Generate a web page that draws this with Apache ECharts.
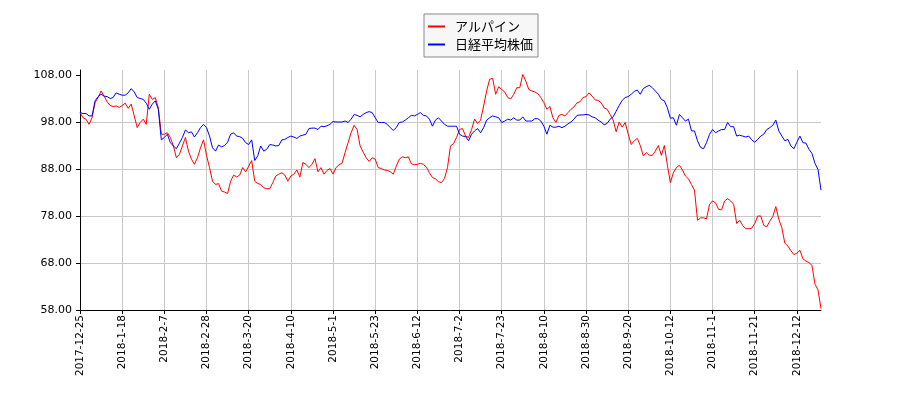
<!DOCTYPE html>
<html>
<head>
<meta charset="utf-8">
<script src="https://cdn.jsdelivr.net/npm/echarts@6/dist/echarts.min.js"></script>
<style>
    html, body { margin: 0; padding: 0; background: #fff; }
    #chart { width: 900px; height: 400px; }
</style>
</head>
<body>
<div id="chart"></div>
<script>
let dates = [
    '2017-12-25', '2017-12-26', '2017-12-27', '2017-12-28', '2017-12-29',
    '2018-1-4', '2018-1-5', '2018-1-9', '2018-1-10', '2018-1-11', '2018-1-12', '2018-1-15', '2018-1-16', '2018-1-17', '2018-1-18',
    '2018-1-19', '2018-1-22', '2018-1-23', '2018-1-24', '2018-1-25', '2018-1-26', '2018-1-29', '2018-1-30', '2018-1-31',
    '2018-2-1', '2018-2-2', '2018-2-5', '2018-2-6', '2018-2-7', '2018-2-8', '2018-2-9', '2018-2-13', '2018-2-14', '2018-2-15',
    '2018-2-16', '2018-2-19', '2018-2-20', '2018-2-21', '2018-2-22', '2018-2-23', '2018-2-26', '2018-2-27', '2018-2-28',
    '2018-3-1', '2018-3-2', '2018-3-5', '2018-3-6', '2018-3-7', '2018-3-8', '2018-3-9', '2018-3-12', '2018-3-13', '2018-3-14',
    '2018-3-15', '2018-3-16', '2018-3-19', '2018-3-20', '2018-3-22', '2018-3-23', '2018-3-26', '2018-3-27', '2018-3-28',
    '2018-3-29', '2018-3-30',
    '2018-4-2', '2018-4-3', '2018-4-4', '2018-4-5', '2018-4-6', '2018-4-9', '2018-4-10', '2018-4-11', '2018-4-12', '2018-4-13',
    '2018-4-16', '2018-4-17', '2018-4-18', '2018-4-19', '2018-4-20', '2018-4-23', '2018-4-24', '2018-4-25', '2018-4-26', '2018-4-27',
    '2018-5-1', '2018-5-2', '2018-5-7', '2018-5-8', '2018-5-9', '2018-5-10', '2018-5-11', '2018-5-14', '2018-5-15', '2018-5-16',
    '2018-5-17', '2018-5-18', '2018-5-21', '2018-5-22', '2018-5-23', '2018-5-24', '2018-5-25', '2018-5-28', '2018-5-29',
    '2018-5-30', '2018-5-31',
    '2018-6-1', '2018-6-4', '2018-6-5', '2018-6-6', '2018-6-7', '2018-6-8', '2018-6-11', '2018-6-12', '2018-6-13', '2018-6-14',
    '2018-6-15', '2018-6-18', '2018-6-19', '2018-6-20', '2018-6-21', '2018-6-22', '2018-6-25', '2018-6-26', '2018-6-27',
    '2018-6-28', '2018-6-29',
    '2018-7-2', '2018-7-3', '2018-7-4', '2018-7-5', '2018-7-6', '2018-7-9', '2018-7-10', '2018-7-11', '2018-7-12', '2018-7-13',
    '2018-7-17', '2018-7-18', '2018-7-19', '2018-7-20', '2018-7-23', '2018-7-24', '2018-7-25', '2018-7-26', '2018-7-27',
    '2018-7-30', '2018-7-31',
    '2018-8-1', '2018-8-2', '2018-8-3', '2018-8-6', '2018-8-7', '2018-8-8', '2018-8-9', '2018-8-10', '2018-8-13', '2018-8-14',
    '2018-8-15', '2018-8-16', '2018-8-17', '2018-8-20', '2018-8-21', '2018-8-22', '2018-8-23', '2018-8-24', '2018-8-27',
    '2018-8-28', '2018-8-29', '2018-8-30', '2018-8-31',
    '2018-9-3', '2018-9-4', '2018-9-5', '2018-9-6', '2018-9-7', '2018-9-10', '2018-9-11', '2018-9-12', '2018-9-13', '2018-9-14',
    '2018-9-18', '2018-9-19', '2018-9-20', '2018-9-21', '2018-9-25', '2018-9-26', '2018-9-27', '2018-9-28',
    '2018-10-1', '2018-10-2', '2018-10-3', '2018-10-4', '2018-10-5', '2018-10-9', '2018-10-10', '2018-10-11', '2018-10-12',
    '2018-10-15', '2018-10-16', '2018-10-17', '2018-10-18', '2018-10-19', '2018-10-22', '2018-10-23', '2018-10-24',
    '2018-10-25', '2018-10-26', '2018-10-29', '2018-10-30', '2018-10-31',
    '2018-11-1', '2018-11-2', '2018-11-5', '2018-11-6', '2018-11-7', '2018-11-8', '2018-11-9', '2018-11-12', '2018-11-13',
    '2018-11-14', '2018-11-15', '2018-11-16', '2018-11-19', '2018-11-20', '2018-11-21', '2018-11-22', '2018-11-26',
    '2018-11-27', '2018-11-28', '2018-11-29', '2018-11-30',
    '2018-12-3', '2018-12-4', '2018-12-5', '2018-12-6', '2018-12-7', '2018-12-10', '2018-12-11', '2018-12-12', '2018-12-13',
    '2018-12-14', '2018-12-17', '2018-12-18', '2018-12-19', '2018-12-20', '2018-12-21', '2018-12-25'
];

// アルパイン (indexed, start = 100)
let alpine = [
    100.0, 98.9, 98.6, 97.5, 98.9, 102.1, 103.2, 104.6, 103.5, 102.3,
    101.5, 101.3, 101.4, 101.1, 101.5, 102.0, 100.9, 101.8, 99.3, 96.8,
    97.9, 98.6, 97.5, 103.9, 102.8, 103.2, 101.0, 95.4, 95.4, 95.7,
    94.7, 92.9, 90.4, 91.1, 92.9, 94.7, 91.8, 90.1, 89.0, 90.4,
    92.5, 94.2, 90.9, 88.3, 85.4, 84.7, 84.9, 83.3, 83.1, 82.8,
    85.4, 86.7, 86.3, 86.7, 88.3, 87.4, 88.6, 89.8, 85.4, 84.9,
    84.7, 84.0, 83.8, 83.8, 85.1, 86.5, 86.9, 87.2, 86.7, 85.4,
    86.5, 86.9, 87.8, 86.3, 89.4, 89.0, 88.3, 89.0, 90.2, 87.4,
    88.3, 86.9, 87.7, 88.1, 86.9, 88.3, 88.9, 89.2, 91.5, 93.6,
    95.7, 97.3, 96.4, 92.9, 91.6, 90.4, 89.6, 90.4, 90.1, 88.3,
    88.1, 87.8, 87.7, 87.4, 86.9, 88.6, 90.1, 90.6, 90.4, 90.6,
    89.1, 88.9, 89.0, 89.2, 89.0, 88.4, 87.2, 86.2, 85.9, 85.3,
    85.1, 86.0, 88.3, 92.9, 93.4, 94.7, 96.4, 96.6, 95.0, 94.7,
    96.4, 98.6, 97.7, 98.4, 101.4, 104.6, 107.1, 107.3, 103.9, 105.5,
    104.9, 104.4, 103.2, 102.9, 103.9, 105.3, 105.3, 108.1, 106.7, 104.9,
    104.6, 104.4, 104.0, 103.2, 102.1, 100.7, 101.3, 98.9, 97.9, 99.4,
    99.6, 99.3, 100.0, 100.7, 101.2, 102.1, 102.3, 103.2, 103.4, 104.2,
    103.5, 102.7, 102.6, 102.1, 101.0, 100.7, 99.6, 98.4, 95.9, 98.0,
    96.9, 97.9, 95.4, 93.2, 94.0, 94.5, 93.0, 90.8, 91.5, 90.9,
    90.9, 91.8, 93.0, 90.9, 93.0, 88.8, 85.1, 87.2, 88.3, 88.8,
    87.8, 86.5, 85.9, 84.7, 83.5, 77.1, 77.6, 77.6, 77.4, 80.5,
    81.2, 80.8, 79.4, 79.3, 81.2, 81.7, 81.2, 80.5, 76.4, 77.1,
    76.0, 75.3, 75.3, 75.4, 76.4, 78.0, 78.0, 76.0, 75.7, 76.9,
    77.9, 80.0, 77.3, 75.5, 72.2, 71.6, 70.6, 69.8, 70.1, 70.7,
    68.9, 68.4, 68.1, 67.5, 63.5, 62.3, 58.3
];

// 日経平均株価 (indexed, start = 100)
let nikkei = [
    100.0, 99.8, 99.8, 99.3, 99.3, 102.5, 103.4, 103.9, 103.5, 103.4,
    103.0, 103.2, 104.2, 103.9, 103.7, 103.7, 104.2, 105.1, 104.4, 103.2,
    103.0, 102.8, 102.0, 100.7, 101.8, 102.5, 100.7, 94.2, 94.7, 95.4,
    93.6, 92.9, 92.3, 93.5, 94.7, 96.3, 95.7, 95.9, 94.8, 95.7,
    96.8, 97.5, 96.8, 95.0, 92.5, 91.8, 93.1, 92.7, 93.0, 93.7,
    95.4, 95.7, 95.0, 94.9, 94.5, 93.6, 93.2, 94.2, 89.8, 90.8,
    92.9, 91.8, 92.2, 93.2, 93.1, 92.9, 93.0, 94.2, 94.3, 94.7,
    95.0, 94.8, 94.5, 95.0, 95.2, 95.4, 96.6, 96.7, 96.7, 96.4,
    97.1, 97.0, 97.2, 97.5, 98.1, 98.0, 98.0, 98.0, 98.2, 97.9,
    98.6, 99.6, 99.4, 99.1, 99.6, 100.0, 100.2, 100.0, 98.9, 97.9,
    97.9, 97.9, 97.5, 96.8, 96.2, 96.8, 97.9, 98.0, 98.4, 98.9,
    99.4, 99.3, 99.6, 100.0, 99.4, 99.3, 98.6, 97.1, 98.4, 98.9,
    98.2, 97.5, 97.1, 97.1, 97.1, 97.1, 95.4, 95.0, 94.9, 94.0,
    95.4, 96.1, 96.6, 95.7, 96.8, 98.4, 98.9, 99.3, 99.1, 98.9,
    97.9, 98.2, 98.6, 98.4, 98.9, 98.4, 98.4, 99.1, 98.2, 98.2,
    98.2, 98.7, 98.7, 98.2, 97.1, 95.4, 97.3, 96.9, 96.9, 97.1,
    96.8, 97.1, 97.6, 98.0, 98.6, 99.4, 99.5, 99.5, 99.6, 99.5,
    99.1, 98.9, 98.4, 98.0, 97.4, 97.7, 98.6, 99.1, 100.3, 101.5,
    102.6, 103.2, 103.4, 103.9, 104.5, 104.8, 103.9, 105.1, 105.5, 105.8,
    105.3, 104.6, 103.9, 102.8, 102.5, 101.0, 98.8, 98.9, 97.3, 99.6,
    98.9, 98.2, 98.6, 96.1, 96.1, 94.0, 92.6, 92.3, 93.6, 95.4,
    96.4, 95.7, 96.1, 96.4, 96.4, 97.9, 97.0, 97.0, 95.0, 95.2,
    95.0, 94.8, 95.0, 94.2, 93.7, 94.3, 95.0, 95.4, 96.4, 96.8,
    97.3, 98.4, 96.1, 95.0, 94.0, 94.3, 92.9, 92.3, 93.7, 95.0,
    93.6, 93.5, 92.2, 91.3, 89.2, 87.9, 83.5
];

let yTicks = [58, 68, 78, 88, 98, 108];
let seriesNames = ['アルパイン', '日経平均株価'];

let gridColor = '#c8c8c8';
let chart = echarts.init(document.getElementById('chart'));

chart.setOption({
    animation: false,
    backgroundColor: '#ffffff',
    legend: {
        data: seriesNames,
        orient: 'vertical',
        left: 424,
        top: 14,
        padding: [6, 5, 6, 4],
        itemGap: 5,
        itemWidth: 17,
        itemHeight: 2,
        icon: 'rect',
        backgroundColor: '#f7f7f7',
        borderColor: '#888888',
        borderWidth: 1,
        borderRadius: 0,
        textStyle: {
            fontFamily: 'Noto Sans CJK JP',
            fontSize: 13,
            color: '#000000',
            padding: [0, 0, 0, 5]
        }
    },
    grid: {
        left: 80,
        right: 79,
        top: 70,
        bottom: 90
    },
    xAxis: {
        type: 'category',
        data: dates,
        boundaryGap: false,
        axisLine: { lineStyle: { color: '#000000', width: 1 } },
        axisTick: { interval: 13, length: 4, lineStyle: { color: '#000000' } },
        axisLabel: {
            interval: 13,
            rotate: 90,
            margin: 5,
            fontFamily: 'DejaVu Sans',
            fontSize: 10.5,
            color: '#000000'
        },
        splitLine: { show: true, interval: 13, lineStyle: { color: gridColor, width: 1 } }
    },
    yAxis: {
        type: 'value',
        min: 58,
        max: 109.06,
        interval: 10,
        axisLine: { show: true, lineStyle: { color: '#000000', width: 1 } },
        axisTick: { show: true, length: 4, customValues: yTicks, lineStyle: { color: '#000000' } },
        axisLabel: {
            customValues: yTicks,
            margin: 8,
            fontFamily: 'DejaVu Sans',
            fontSize: 11,
            color: '#000000',
            formatter: function (v) {
                if (Math.abs((v - 58) % 10) > 0.01) return '';
                return v.toFixed(2);
            }
        },
        splitLine: { show: true, showMaxLine: false, lineStyle: { color: gridColor, width: 1 } }
    },
    series: [
        {
            name: seriesNames[0],
            type: 'line',
            data: alpine,
            showSymbol: false,
            color: '#ff0000',
            lineStyle: { color: '#ff0000', width: 1 }
        },
        {
            name: seriesNames[1],
            type: 'line',
            data: nikkei,
            showSymbol: false,
            color: '#0000ff',
            lineStyle: { color: '#0000ff', width: 1 }
        }
    ]
});
</script>
</body>
</html>
